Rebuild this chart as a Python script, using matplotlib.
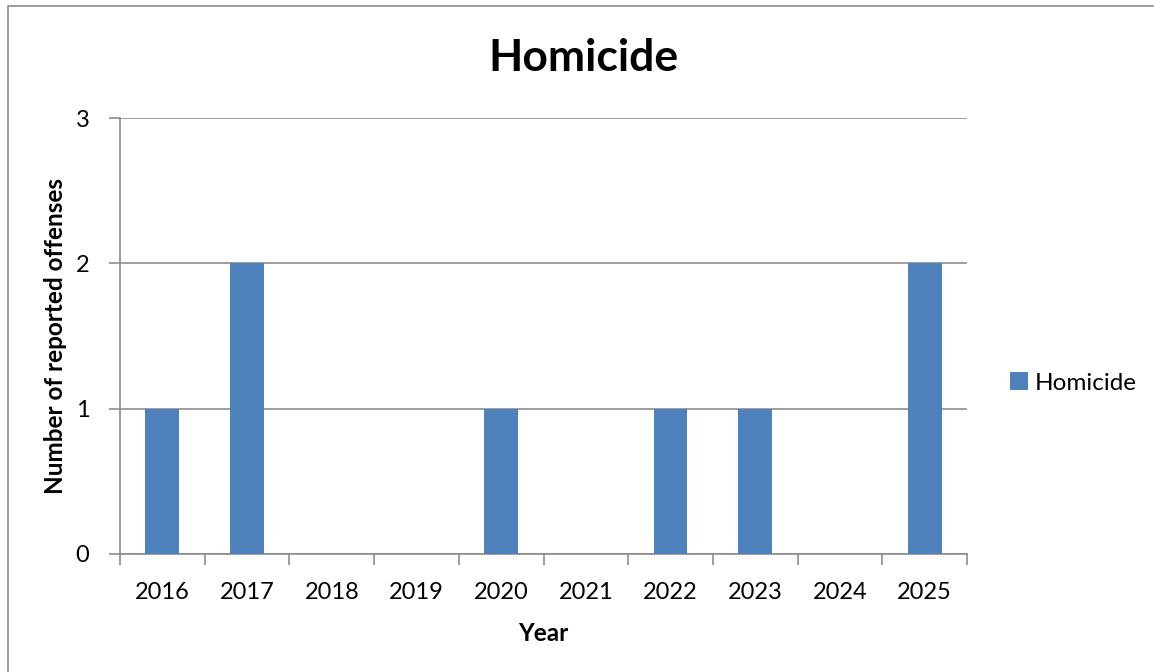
import numpy as np
import matplotlib
matplotlib.use('Agg')
import matplotlib.pyplot as plt
from matplotlib.lines import Line2D

# Dane
years = ['2016', '2017', '2018', '2019', '2020', '2021', '2022', '2023', '2024', '2025']
homicide = [1, 2, 0, 0, 1, 0, 1, 1, 0, 2]

plt.rcParams['font.family'] = ['Lato', 'DejaVu Sans']

fig = plt.figure(figsize=(11.54, 6.72), dpi=100)
# ramka wykresu (widoczna tylko z lewej i u góry)
fig.lines.append(Line2D([8/1154, 8/1154, 1], [0, 1 - 6/672, 1 - 6/672], transform=fig.transFigure,
                        color='#8c8c8c', linewidth=1.2))

ax = fig.add_axes([120/1154, 118/672, 847/1154, 436/672])
x = np.arange(len(years))
ax.bar(x, homicide, width=0.4, color='#4F81BD', label='Homicide', zorder=3)

ax.set_xlim(-0.5, len(years) - 0.5)
ax.set_ylim(0, 3)
ax.set_yticks([0, 1, 2, 3])
ax.set_xticks(x)
ax.set_xticklabels(years)
ax.set_xticks(np.arange(-0.5, len(years), 1), minor=True)
ax.tick_params(axis='x', which='major', length=0, pad=20, labelsize=17)
ax.tick_params(axis='x', which='minor', length=8, color='#8c8c8c', width=1.2)
ax.tick_params(axis='y', length=8, color='#8c8c8c', width=1.2, pad=14, labelsize=17)

ax.grid(axis='y', color='#8c8c8c', linewidth=1.2, zorder=0)
for s in ['top', 'right']:
    ax.spines[s].set_visible(False)
for s in ['left', 'bottom']:
    ax.spines[s].set_color('#8c8c8c')
    ax.spines[s].set_linewidth(1.2)

fig.text(583/1154, 1 - 58/672, 'Homicide', fontsize=32, fontweight='bold', ha='center', va='center')
ax.set_xlabel('Year', fontsize=17.5, fontweight='bold', labelpad=14)
ax.set_ylabel('Number of reported offenses', fontsize=17.5, fontweight='bold')
ax.yaxis.set_label_coords(-0.063, 0.5)

ax.legend(loc='center left', bbox_to_anchor=(1.036, 0.392), frameon=False, fontsize=17.5,
          handlelength=0.75, handleheight=0.75, handletextpad=0.3, borderpad=0)

plt.savefig('out.png', dpi=100)
